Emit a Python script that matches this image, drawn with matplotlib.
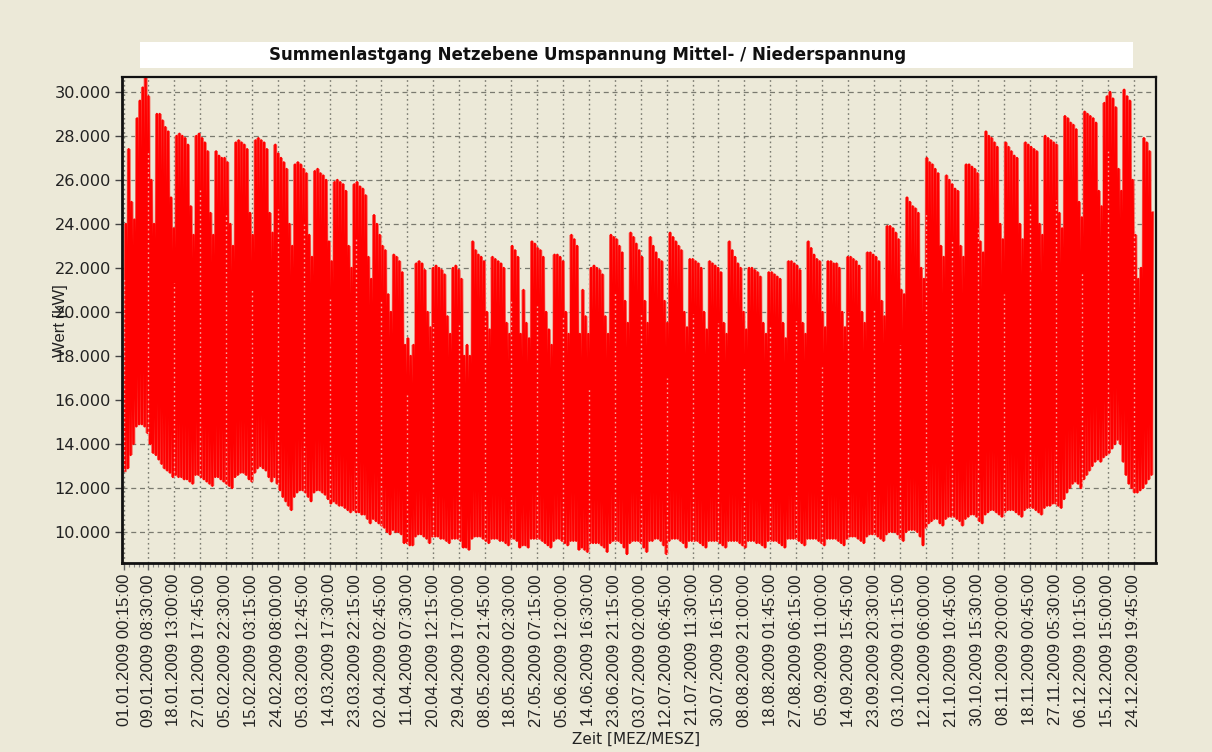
import numpy as np
import matplotlib
matplotlib.use("Agg")
import matplotlib.pyplot as plt
from matplotlib.patches import Rectangle
from matplotlib.ticker import FixedLocator, FuncFormatter
from datetime import datetime, timedelta

# ---------------- data ----------------
title = "Summenlastgang Netzebene Umspannung Mittel- / Niederspannung"
x_label = "Zeit [MEZ/MESZ]"
y_label = "Wert [kW]"

tick_labels = [
    "01.01.2009 00:15:00", "09.01.2009 08:30:00", "18.01.2009 13:00:00", "27.01.2009 17:45:00",
    "05.02.2009 22:30:00", "15.02.2009 03:15:00", "24.02.2009 08:00:00", "05.03.2009 12:45:00",
    "14.03.2009 17:30:00", "23.03.2009 22:15:00", "02.04.2009 02:45:00", "11.04.2009 07:30:00",
    "20.04.2009 12:15:00", "29.04.2009 17:00:00", "08.05.2009 21:45:00", "18.05.2009 02:30:00",
    "27.05.2009 07:15:00", "05.06.2009 12:00:00", "14.06.2009 16:30:00", "23.06.2009 21:15:00",
    "03.07.2009 02:00:00", "12.07.2009 06:45:00", "21.07.2009 11:30:00", "30.07.2009 16:15:00",
    "08.08.2009 21:00:00", "18.08.2009 01:45:00", "27.08.2009 06:15:00", "05.09.2009 11:00:00",
    "14.09.2009 15:45:00", "23.09.2009 20:30:00", "03.10.2009 01:15:00", "12.10.2009 06:00:00",
    "21.10.2009 10:45:00", "30.10.2009 15:30:00", "08.11.2009 20:00:00", "18.11.2009 00:45:00",
    "27.11.2009 05:30:00", "06.12.2009 10:15:00", "15.12.2009 15:00:00", "24.12.2009 19:45:00",
]

y_ticks = [10000, 12000, 14000, 16000, 18000, 20000, 22000, 24000, 26000, 28000, 30000]

# daily maximum load [kW], 01.01.2009 ... 31.12.2009 (rows: Thu-Sun, then Mon..Sun weeks)
daily_max = [
    24000, 27400, 25000, 24200,
    28800, 29600, 30200, 30700, 29800, 26000, 24000,
    29000, 29000, 28700, 28400, 28200, 25200, 23800,
    28000, 28100, 28000, 27900, 27600, 24800, 23500,
    28000, 28100, 27900, 27700, 27300, 24500, 23500,
    27300, 27100, 27000, 27000, 26800, 24000, 23000,
    27700, 27800, 27700, 27600, 27400, 24500, 23500,
    27800, 27900, 27800, 27700, 27400, 24500, 23600,
    27600, 27200, 27000, 26800, 26500, 24000, 23000,
    26700, 26800, 26700, 26500, 26300, 23500, 22500,
    26400, 26500, 26300, 26200, 26000, 23200, 22300,
    25900, 26000, 25900, 25800, 25500, 23000, 22000,
    25800, 25900, 25700, 25600, 25300, 22500, 21500,
    24400, 24000, 23500, 23000, 22800, 20800, 20000,
    22600, 22500, 22300, 21800, 18500, 18800, 18000,
    18500, 22200, 22300, 22200, 21900, 20000, 19300,
    22000, 22100, 22000, 21900, 21700, 19800, 19000,
    22000, 22100, 21900, 21500, 18000, 18500, 18000,
    23200, 22800, 22600, 22500, 22300, 20000, 19200,
    22500, 22400, 22300, 22200, 22000, 19500, 19000,
    23000, 22800, 22500, 19000, 21000, 19500, 18800,
    23200, 23100, 22900, 22800, 22500, 20000, 19200,
    18500, 22600, 22600, 22500, 22300, 20000, 19000,
    23500, 23300, 23000, 19000, 21000, 19800, 19000,
    22000, 22100, 22000, 21900, 21700, 19800, 19000,
    23500, 23400, 23300, 23000, 22700, 20500, 19500,
    23600, 23400, 23100, 22800, 22500, 20500, 19500,
    23400, 23000, 22700, 22400, 22300, 20500, 19500,
    23600, 23400, 23200, 23000, 22800, 20000, 19300,
    22400, 22400, 22300, 22200, 22000, 20000, 19200,
    22300, 22200, 22100, 22000, 21800, 19500, 19000,
    23200, 22800, 22500, 22200, 22000, 20000, 19200,
    22000, 22000, 21900, 21800, 21600, 19500, 19000,
    21800, 21800, 21700, 21600, 21500, 19500, 18800,
    22300, 22300, 22200, 22100, 21900, 19500, 19000,
    23200, 22900, 22600, 22400, 22300, 20000, 19300,
    22300, 22300, 22200, 22200, 22000, 20000, 19300,
    22500, 22500, 22400, 22300, 22100, 20000, 19500,
    22700, 22700, 22600, 22500, 22300, 20500, 19800,
    23900, 23900, 23800, 23600, 23300, 21000, 20800,
    25200, 25000, 24800, 24700, 24500, 22000, 21500,
    27000, 26800, 26700, 26500, 26300, 23000, 22500,
    26200, 26000, 25800, 25600, 25500, 23000, 22500,
    26700, 26700, 26600, 26500, 26300, 23200, 22700,
    28200, 28000, 27900, 27700, 27500, 24000, 23300,
    27700, 27500, 27300, 27100, 27000, 24000, 23300,
    27700, 27600, 27500, 27400, 27300, 24000, 23500,
    28000, 27900, 27800, 27700, 27600, 24500, 23800,
    28900, 28800, 28600, 28500, 28300, 25000, 24300,
    29100, 29000, 28900, 28800, 28600, 25500, 24800,
    29500, 29800, 30000, 29700, 29300, 26500, 25500,
    30100, 29800, 29600, 26000, 23500, 21500, 22000,
    27900, 27700, 27300, 24500,
]

# daily minimum load [kW]
daily_min = [
    12800, 12900, 13500, 14000,
    14800, 14900, 14900, 14800, 14500, 14000, 13600,
    13500, 13300, 13100, 12900, 12800, 12700, 12500,
    12600, 12500, 12500, 12400, 12400, 12300, 12200,
    12600, 12600, 12500, 12400, 12300, 12200, 12100,
    12500, 12500, 12400, 12300, 12200, 12100, 12000,
    12500, 12600, 12700, 12700, 12600, 12400, 12300,
    12700, 12900, 13000, 12900, 12800, 12500, 12300,
    12500, 12200, 11900, 11600, 11400, 11200, 11000,
    11600, 11800, 11900, 11900, 11800, 11600, 11400,
    11800, 11900, 11900, 11800, 11700, 11500, 11300,
    11400, 11300, 11200, 11200, 11100, 11000, 10900,
    11000, 10900, 10900, 10800, 10800, 10600, 10400,
    10600, 10500, 10400, 10300, 10200, 10000, 9900,
    10100, 10000, 10000, 9900, 9500, 9500, 9400,
    9400, 9800, 9900, 9900, 9800, 9700, 9500,
    9800, 9800, 9800, 9700, 9700, 9600, 9500,
    9700, 9700, 9700, 9600, 9300, 9300, 9200,
    9700, 9800, 9800, 9800, 9700, 9600, 9500,
    9700, 9700, 9700, 9600, 9600, 9500, 9400,
    9700, 9700, 9600, 9300, 9400, 9400, 9300,
    9700, 9700, 9700, 9700, 9600, 9500, 9400,
    9300, 9600, 9700, 9700, 9600, 9500, 9400,
    9600, 9600, 9600, 9200, 9300, 9200, 9100,
    9500, 9500, 9500, 9500, 9400, 9300, 9100,
    9500, 9600, 9600, 9600, 9500, 9300, 9000,
    9500, 9600, 9600, 9600, 9500, 9300, 9100,
    9600, 9600, 9700, 9700, 9600, 9400, 9000,
    9600, 9700, 9700, 9700, 9600, 9500, 9300,
    9600, 9600, 9600, 9600, 9500, 9400, 9300,
    9600, 9600, 9600, 9600, 9500, 9400, 9300,
    9600, 9600, 9600, 9600, 9500, 9400, 9300,
    9600, 9600, 9600, 9500, 9500, 9400, 9300,
    9600, 9600, 9600, 9600, 9500, 9400, 9300,
    9700, 9700, 9700, 9700, 9600, 9500, 9400,
    9700, 9700, 9700, 9700, 9600, 9500, 9400,
    9700, 9700, 9700, 9700, 9600, 9500, 9400,
    9700, 9800, 9800, 9800, 9700, 9600, 9500,
    9800, 9900, 9900, 9900, 9800, 9700, 9600,
    9900, 10000, 10000, 10000, 9900, 9700, 9600,
    10000, 10100, 10100, 10100, 10000, 9800, 9400,
    10200, 10400, 10500, 10600, 10600, 10400, 10300,
    10600, 10700, 10700, 10700, 10600, 10500, 10300,
    10600, 10700, 10800, 10800, 10700, 10500, 10400,
    10800, 10900, 11000, 11000, 10900, 10800, 10700,
    10900, 11000, 11000, 11000, 10900, 10800, 10700,
    11000, 11100, 11100, 11100, 11000, 10900, 10800,
    11100, 11200, 11200, 11300, 11300, 11200, 11100,
    11500, 11800, 12000, 12200, 12300, 12200, 12000,
    12400, 12600, 12800, 13000, 13200, 13300, 13200,
    13400, 13500, 13600, 13800, 14000, 14200, 14000,
    13200, 12600, 12200, 12000, 11800, 11800, 11900,
    12000, 12200, 12400, 12600,
]

# ---------------- helpers ----------------
START = datetime(2009, 1, 1, 0, 15)
DST_ON = datetime(2009, 3, 29, 3, 0)
DST_OFF = datetime(2009, 10, 25, 3, 0)


def label_to_index(s):
    dt = datetime.strptime(s, "%d.%m.%Y %H:%M:%S")
    idx = (dt - START) / timedelta(minutes=15)
    if DST_ON <= dt < DST_OFF:
        idx -= 4
    return idx


tick_pos = [label_to_index(s) for s in tick_labels]

dmax = np.array(daily_max, dtype=float)
dmin = np.array(daily_min, dtype=float)
n_days = len(dmax)
day_idx = np.arange(n_days) * 96
# night minimum around 04:15, day maximum around 11:45 (quarter-hour index)
xs = np.column_stack([day_idx + 16, day_idx + 46]).ravel()
ys = np.column_stack([dmin, dmax]).ravel()

# ---------------- figure ----------------
W, H = 1212, 752
BG = "#ECE9D8"
fig = plt.figure(figsize=(W / 100, H / 100), dpi=100, facecolor=BG)

# title box
fig.patches.append(Rectangle((140 / W, 1 - 68 / H), 993 / W, 26 / H,
                             transform=fig.transFigure, facecolor="white",
                             edgecolor="none", zorder=0))
fig.text(588 / W, 1 - 55 / H, title, ha="center", va="center",
         fontsize=12, fontweight="bold", family="DejaVu Sans", color="#111111")

ax = fig.add_axes([122 / W, 1 - 563 / H, (1156 - 122) / W, (563 - 77) / H])
ax.set_facecolor(BG)

# light halo (peaks look lighter in the reference), then the solid trace
ax.plot(xs, ys, color="#F47C70", lw=2.6, solid_joinstyle="miter", zorder=2.5)
ax.plot(xs, ys, color="#FF0000", lw=1.7, solid_joinstyle="round", zorder=3)

# light dotted grid traces visible through the red area
for tp in tick_pos:
    d = int(tp // 96)
    if 0 <= d < n_days:
        ax.vlines(tp, dmin[d], dmax[d] - 2500, colors="#F6A49C", linestyles=(0, (1.2, 2.2)),
                  lw=1.0, zorder=4)

ax.set_xlim(-85, 35115)
ax.set_ylim(8590, 30680)

ax.xaxis.set_major_locator(FixedLocator(tick_pos))
ax.set_xticklabels(tick_labels, rotation=90, family="Liberation Sans", fontsize=12,
                   color="#222222", va="top", ha="center")
minor = []
for a, b in zip(tick_pos[:-1], tick_pos[1:]):
    minor += list(np.linspace(a, b, 6)[1:-1])
ax.xaxis.set_minor_locator(FixedLocator(minor))

ax.yaxis.set_major_locator(FixedLocator(y_ticks))
ax.yaxis.set_major_formatter(FuncFormatter(lambda v, p: f"{int(v):,}".replace(",", ".")))
for lab in ax.get_yticklabels():
    lab.set_family("DejaVu Sans")
    lab.set_fontsize(11.6)
    lab.set_color("#222222")

ax.tick_params(axis="y", which="major", length=5, width=1, color="#444444", pad=3)
ax.tick_params(axis="x", which="major", length=5, width=1, color="#666666", pad=3)
ax.tick_params(axis="x", which="minor", length=3, width=0.8, color="#888888")

ax.grid(axis="y", which="major", color="#7A7A70", linestyle=(0, (4, 3)), lw=0.9)
ax.grid(axis="x", which="major", color="#7A7A70", linestyle=(0, (1.2, 2.2)), lw=1.0)
ax.set_axisbelow(True)

for side, sp in ax.spines.items():
    sp.set_color("#111111")
    sp.set_linewidth(2.0 if side in ("left", "bottom") else 1.6)
    sp.set_zorder(6)

fig.text(636 / W, 1 - 739 / H, x_label, ha="center", va="center",
         fontsize=11, family="DejaVu Sans", color="#222222")
fig.text(61 / W, 1 - 321 / H, y_label, ha="center", va="center", rotation=90,
         fontsize=12, family="Liberation Sans", color="#222222")

fig.savefig("out.png", dpi=100, facecolor=BG)
